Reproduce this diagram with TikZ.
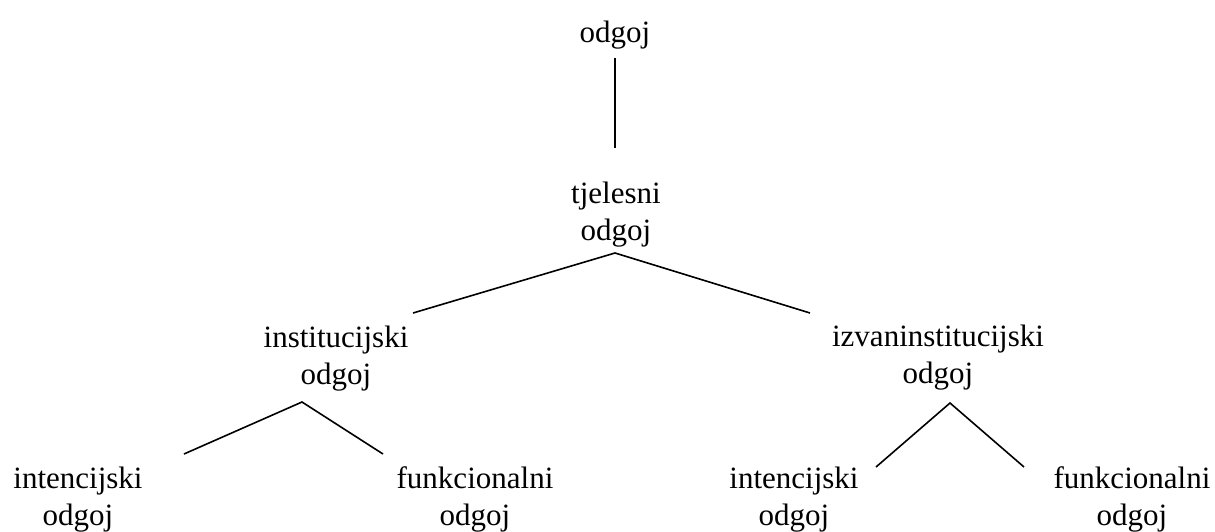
\documentclass[tikz,border=0pt]{standalone}
\usepackage{fontspec}
\setmainfont{Liberation Serif}
\begin{document}
\begin{tikzpicture}[x=1pt,y=-1pt,
  lbl/.style={inner sep=0pt, anchor=base, font=\fontsize{31}{37}\selectfont},
  conn/.style={line width=1.6pt}]
\useasboundingbox (0,0) rectangle (1215,531);
\newcommand{\twoline}[2]{\begin{tabular}[t]{@{}c@{}}#1\\#2\end{tabular}}
% nodes
\node[lbl] (top) at (615,42) {odgoj};
\node[lbl] (tj) at (616,203) {\twoline{tjelesni}{odgoj}};
\node[lbl] (inst) at (336,347) {\twoline{institucijski}{odgoj}};
\node[lbl] (izv) at (938,346) {\twoline{izvaninstitucijski}{odgoj}};
\node[lbl] (i1) at (78,488) {\twoline{intencijski}{odgoj}};
\node[lbl] (f1) at (475,488) {\twoline{funkcionalni}{odgoj}};
\node[lbl] (i2) at (794,488) {\twoline{intencijski}{odgoj}};
\node[lbl] (f2) at (1132,488) {\twoline{funkcionalni}{odgoj}};
% connector end points
\coordinate (topB) at (615,58);
\coordinate (tjT) at (615,148);
\coordinate (tjB) at (615,253);
\coordinate (instT) at (413,313);
\coordinate (izvT) at (810,313);
\coordinate (instB) at (302,402);
\coordinate (i1T) at (184,454);
\coordinate (f1T) at (383,454);
\coordinate (izvB) at (950,403);
\coordinate (i2T) at (876,467);
\coordinate (f2T) at (1024,467);
% connectors
\draw[conn] (topB) -- (tjT);
\draw[conn] (instT) -- (tjB) -- (izvT);
\draw[conn] (i1T) -- (instB) -- (f1T);
\draw[conn] (i2T) -- (izvB) -- (f2T);
\end{tikzpicture}
\end{document}
